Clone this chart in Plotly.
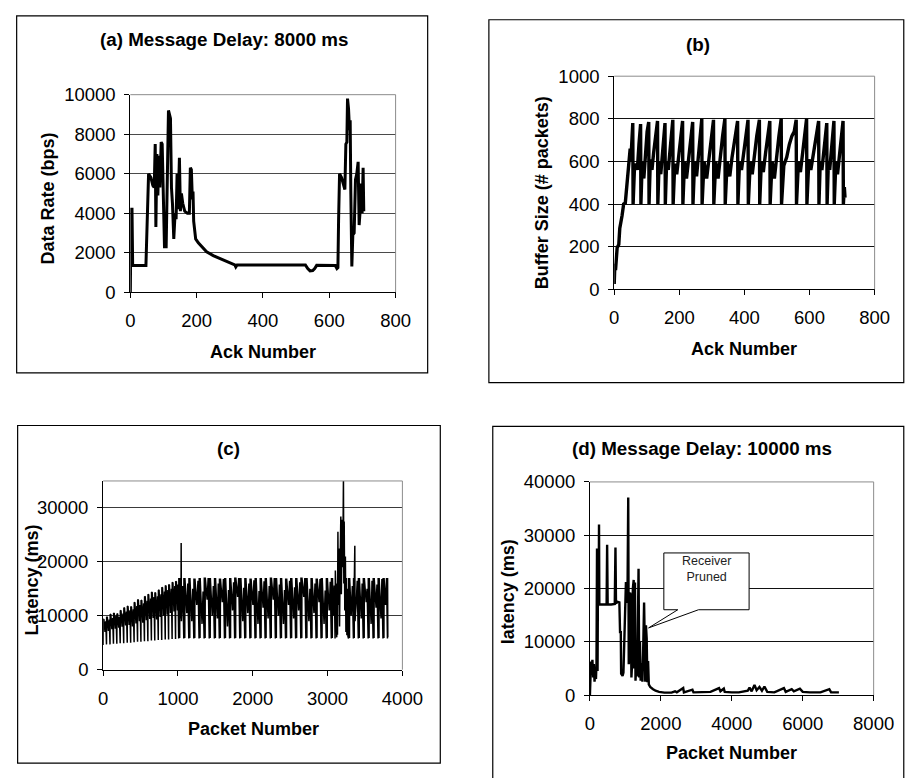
import plotly.graph_objects as go

W, H = 917, 778
FONT = "Liberation Sans, Arial, sans-serif"

# ---------------- (a) Data rate vs ack number ----------------
a_ack = [0, 2, 5, 7, 47, 49, 52, 55, 62, 68, 72, 75, 77, 80, 83, 86, 89, 93, 96, 99,
         103, 108, 111, 115, 118, 121, 124, 127, 131, 135, 138, 141, 144, 148, 151, 154,
         158, 164, 172, 178, 181, 184, 187, 189, 191, 197, 205, 215, 230, 250, 270, 290,
         305, 315, 318, 322, 400, 480, 528, 535, 542, 550, 556, 562, 600, 618, 623, 626,
         628, 631, 637, 643, 647, 650, 653, 655, 658, 661, 663, 665, 668, 671, 675, 679,
         683, 687, 690, 693, 696, 699, 702, 704]
a_rate = [0, 4200, 4200, 1350, 1350, 2700, 4900, 6000, 5800, 5400, 5300, 7500, 3300, 7000,
          4900, 6900, 5300, 7600, 7500, 5000, 2300, 2300, 4600, 9200, 9000, 8800, 5300, 4500,
          2700, 4000, 3700, 6000, 4200, 6800, 4100, 5000, 4500, 4100, 4000, 4000, 6300, 6200,
          4700, 5100, 3600, 2700, 2500, 2300, 2050, 1850, 1700, 1550, 1450, 1380, 1280, 1380,
          1380, 1380, 1380, 1200, 1080, 1100, 1200, 1360, 1370, 1350, 1200, 1250, 3600, 6000,
          5800, 5400, 5200, 7500, 7600, 9800, 9300, 8200, 8700, 5000, 1300, 2900, 3000, 5700,
          6000, 6600, 3400, 4100, 5500, 4000, 6300, 4100]

# ---------------- (b) Buffer size vs ack number ----------------
b_ack = [0, 2, 4, 9, 14, 17, 24, 29, 34, 37, 42, 45, 49, 51, 55, 57,
         58, 62, 67, 71, 76, 81,
         82, 86, 91, 95, 101, 106,
         107, 111, 116, 121, 127, 133,
         134, 138, 143, 147, 152, 156,
         157, 161, 166, 170, 175, 180,
         181, 186, 192, 198, 204, 210,
         211, 216, 222, 229, 235, 241,
         242, 247, 253, 259, 264, 269,
         270, 276, 284, 292, 299, 305,
         306, 312, 319, 326, 333, 340,
         341, 347, 355, 362, 370, 379,
         380, 385, 391, 398, 405, 411,
         412, 418, 424, 431, 438, 446,
         447, 452, 458, 465, 472, 478,
         479, 485, 492, 499, 506, 513,
         514, 521, 530, 538, 546, 553, 559,
         560, 566, 572, 578, 585, 591,
         592, 598, 604, 612, 620, 628,
         629, 633, 638, 643, 649, 653,
         654, 658, 662, 667, 672, 675,
         676, 681, 686, 692, 698, 703,
         704, 707, 709]
b_buffer = [25, 120, 90, 195, 210, 285, 345, 400, 405, 455, 500, 590, 660, 600, 720, 780,
            400, 560, 590, 560, 680, 775,
            400, 600, 520, 620, 740, 785,
            400, 610, 560, 640, 720, 790,
            400, 600, 540, 620, 700, 780,
            400, 600, 560, 640, 720, 795,
            400, 590, 540, 620, 700, 790,
            400, 600, 520, 620, 700, 785,
            400, 600, 530, 640, 720, 800,
            400, 600, 520, 620, 710, 795,
            400, 600, 520, 630, 720, 800,
            400, 600, 530, 620, 700, 790,
            400, 600, 560, 640, 720, 795,
            400, 600, 540, 640, 720, 795,
            400, 600, 550, 640, 720, 790,
            400, 600, 520, 640, 720, 800,
            400, 580, 620, 680, 720, 740, 795,
            400, 600, 550, 640, 720, 800,
            400, 610, 560, 640, 720, 790,
            400, 600, 560, 640, 720, 780,
            400, 600, 560, 650, 720, 790,
            400, 600, 540, 620, 720, 790,
            400, 480, 430]

# ---------------- (c) Latency vs packet number ----------------
c_packet = [
    0, 2, 9, 11, 25, 35, 45, 47, 54, 56, 70, 82, 92, 94, 101, 103, 117, 128,
    138, 140, 147, 149, 163, 173, 183, 185, 192, 194, 208, 218, 228, 230, 237, 239, 253, 265,
    275, 277, 284, 286, 300, 312, 322, 324, 331, 333, 347, 358, 368, 370, 377, 379, 393, 404,
    414, 416, 423, 425, 439, 450, 460, 462, 469, 471, 485, 495, 505, 507, 514, 516, 530, 542,
    552, 554, 561, 563, 577, 588, 598, 600, 607, 609, 623, 635, 645, 647, 654, 656, 670, 680,
    690, 692, 699, 701, 715, 727, 737, 739, 746, 748, 762, 773, 783, 785, 792, 794, 808, 820,
    830, 832, 839, 841, 855, 865, 875, 877, 884, 886, 900, 912, 922, 924, 931, 933, 947, 958,
    968, 970, 977, 979, 993, 1000,
    1010, 1012, 1023, 1025, 1035, 1040, 1043, 1046, 1064,
    1078, 1080, 1091, 1093, 1118, 1131, 1145, 1147, 1158, 1160, 1185, 1198,
    1212, 1214, 1225, 1227, 1252, 1268, 1282, 1284, 1295, 1297, 1322, 1336,
    1350, 1352, 1363, 1365, 1390, 1404, 1418, 1420, 1431, 1433, 1458, 1473,
    1487, 1489, 1500, 1502, 1527, 1539, 1553, 1555, 1566, 1568, 1593, 1608,
    1622, 1624, 1635, 1637, 1662, 1676, 1690, 1692, 1703, 1705, 1730, 1744,
    1758, 1760, 1771, 1773, 1798, 1812, 1826, 1828, 1839, 1841, 1866, 1879,
    1893, 1895, 1906, 1908, 1933, 1948, 1962, 1964, 1975, 1977, 2002, 2016,
    2030, 2032, 2043, 2045, 2070, 2084, 2098, 2100, 2111, 2113, 2138, 2151,
    2165, 2167, 2178, 2180, 2205, 2220, 2234, 2236, 2247, 2249, 2274, 2288,
    2302, 2304, 2315, 2317, 2342, 2356, 2370, 2372, 2383, 2385, 2410, 2424,
    2438, 2440, 2451, 2453, 2478, 2492, 2506, 2508, 2519, 2521, 2546, 2559,
    2573, 2575, 2586, 2588, 2613, 2628, 2642, 2644, 2655, 2657, 2682, 2696,
    2710, 2712, 2723, 2725, 2750, 2764, 2778, 2780, 2791, 2793, 2818, 2832,
    2846, 2848, 2859, 2861, 2886, 2899, 2913, 2915, 2926, 2928, 2953, 2968,
    2982, 2984, 2995, 2997, 3022, 3036, 3050, 3052, 3063, 3065, 3080, 3090,
    3100, 3104, 3112, 3122, 3128, 3132, 3138, 3144, 3152, 3160, 3168, 3177,
    3184, 3195, 3203, 3212, 3217, 3222, 3230, 3238, 3245, 3252, 3258, 3265, 3272,
    3280, 3282, 3293, 3295, 3315, 3331,
    3345, 3347, 3356, 3358, 3361, 3364, 3367, 3385, 3396,
    3410, 3412, 3423, 3425, 3450, 3462, 3476, 3478, 3489, 3491, 3516, 3528,
    3542, 3544, 3555, 3557, 3582, 3594, 3608, 3610, 3621, 3623, 3648, 3660,
    3674, 3676, 3687, 3689, 3714, 3726, 3740, 3742, 3753, 3755, 3775, 3788,
    3800, 3802, 3805]
c_latency = [
    4600, 9400, 4700, 9300, 7000, 9000, 4700, 9800, 4800, 9700, 7200, 9300,
    4700, 10300, 4800, 10200, 7500, 9600, 4800, 10500, 4900, 10400, 7600, 10000,
    4800, 10400, 4900, 10300, 7800, 9800, 4900, 11000, 5000, 10900, 8000, 10400,
    4900, 11500, 5000, 11400, 8200, 10800, 5000, 11800, 5100, 11700, 8300, 11000,
    5000, 11700, 5100, 11600, 8000, 11200, 5100, 12500, 5200, 12400, 8600, 11800,
    5200, 13000, 5300, 12900, 9000, 12000, 5200, 12900, 5300, 12800, 8700, 12300,
    5300, 13600, 5400, 13500, 9200, 12800, 5300, 14000, 5400, 13900, 9400, 13200,
    5400, 14400, 5500, 14300, 9600, 13500, 5400, 14300, 5500, 14200, 9300, 13600,
    5500, 14800, 5600, 14700, 9800, 14000, 5500, 15300, 5600, 15200, 10000, 14500,
    5600, 15600, 5700, 15500, 10200, 14800, 5600, 15800, 5700, 15700, 10500, 15000,
    5700, 16200, 5800, 16100, 10800, 15500, 5700, 16400, 5800, 16300, 11000, 15800,
    5800, 17000, 5900, 17000, 11500, 9500, 23500, 9000, 15500,
    5800, 17000, 5900, 17000, 10500, 16000, 5800, 17000, 5900, 17000, 9000, 15000,
    5800, 16900, 5900, 16900, 12000, 16500, 5800, 17000, 5900, 17000, 8500, 14500,
    5800, 17100, 5900, 17100, 13000, 17000, 5800, 17000, 5900, 17000, 10000, 15500,
    5800, 17000, 5900, 17000, 9500, 16000, 5800, 16900, 5900, 16900, 12500, 16800,
    5800, 17000, 5900, 17000, 8000, 14800, 5800, 17000, 5900, 17000, 11000, 16200,
    5800, 17100, 5900, 17100, 13500, 17000, 5800, 17000, 5900, 17000, 9000, 15200,
    5800, 17000, 5900, 17000, 10500, 16000, 5800, 16900, 5900, 16900, 12000, 16600,
    5800, 17000, 5900, 17000, 8500, 14600, 5800, 17000, 5900, 17000, 11500, 16400,
    5800, 17000, 5900, 17000, 9500, 15500, 5800, 17100, 5900, 17100, 13000, 17000,
    5800, 17000, 5900, 17000, 10000, 15800, 5800, 17000, 5900, 17000, 8500, 14800,
    5800, 16900, 5900, 16900, 12000, 16500, 5800, 17000, 5900, 17000, 9500, 15300,
    5800, 17000, 5900, 17000, 11000, 16200, 5800, 17100, 5900, 17100, 13500, 17000,
    5800, 17000, 5900, 17000, 9000, 15000, 5800, 17000, 5900, 17000, 10500, 16000,
    5800, 16900, 5900, 16900, 12500, 16800, 5800, 17000, 5900, 17000, 8500, 14700,
    5800, 17000, 5900, 17000, 11000, 16300, 5800, 17000, 5900, 17000, 10000, 15600,
    5800, 18400, 9000, 6000, 16000, 6500, 25600, 12000, 22500, 8000, 20000, 28400,
    14000, 27800, 19000, 35500, 16000, 27500, 11000, 21000, 7000, 17000, 6400, 15000, 6200,
    5800, 17000, 5900, 17000, 10000, 15500,
    5800, 17000, 5900, 17000, 12000, 23000, 9000, 13000, 16500,
    5800, 17000, 5900, 17000, 9500, 16000, 5800, 17000, 5900, 17000, 12500, 15000,
    5800, 17000, 5900, 17000, 8500, 16500, 5800, 17000, 5900, 17000, 11500, 15800,
    5800, 17000, 5900, 17000, 9500, 16800, 5800, 17000, 5900, 17000, 12000, 17000,
    5800, 17000, 6000]

# ---------------- (d) Latency vs packet number ----------------
d_packet = [0, 15, 30, 50, 70, 90, 110, 130, 150, 170, 185, 200, 215, 230, 245, 256, 265,
            300, 400, 470, 485, 500, 600, 700, 720, 735, 780, 830, 850, 870, 880, 920, 945,
            980, 1000, 1015, 1040, 1060, 1080, 1095, 1110, 1130, 1150, 1170, 1190, 1210,
            1234, 1250, 1270, 1285, 1300, 1320, 1345, 1371, 1390, 1410, 1430, 1460, 1480,
            1500, 1527, 1545, 1560, 1580, 1600, 1620, 1640, 1660, 1700, 1780, 1850, 1950,
            2100, 2300, 2400, 2450, 2630, 2650, 2890, 2920, 3100, 3400, 3640, 3680, 3775,
            3800, 4000, 4200, 4450, 4500, 4560, 4640, 4700, 4780, 4850, 4920, 5000, 5200,
            5470, 5520, 5690, 5750, 5920, 6000, 6200, 6500, 6750, 6800, 7020]
d_latency = [0, 3000, 6300, 4500, 6600, 3300, 5800, 2500, 4000, 3000, 6000, 27500, 4500,
             27000, 17000, 32000, 17000, 17000, 17000, 17000, 28200, 17000, 17000, 17100,
             27700, 17200, 17500, 17400, 11600, 12000, 4000, 3600, 4200, 14300, 15000, 21200,
             17300, 19000, 37100, 5800, 6500, 19200, 18800, 3300, 6000, 20000, 21600, 5000,
             21100, 2700, 5000, 3500, 9000, 23700, 3300, 10000, 2700, 6000, 2500, 8000, 17350,
             10000, 2500, 13100, 10650, 2400, 6400, 2000, 1500, 1100, 800, 600, 450, 450, 700,
             500, 1300, 500, 1000, 500, 500, 600, 1300, 700, 1200, 600, 500, 500, 800, 1400,
             700, 1900, 900, 1500, 800, 1600, 600, 500, 1300, 600, 1100, 700, 1200, 600, 500,
             500, 1100, 500, 500]

# ---------------- text ----------------
titles = ["(a) Message Delay: 8000 ms", "(b)", "(c)", "(d) Message Delay: 10000 ms"]
x_titles = ["Ack Number", "Ack Number", "Packet Number", "Packet Number"]
y_titles = ["Data Rate (bps)", "Buffer Size (# packets)", "Latency (ms)", "latency (ms)"]
callout_text = "Receiver<br>Pruned"


def px(x):
    return x / W


def py(y):
    return 1 - y / H


fig = go.Figure()
series = [(a_ack, a_rate, 3.0), (b_ack, b_buffer, 3.4), (c_packet, c_latency, 1.5),
          (d_packet, d_latency, 2.4)]
for i, (xs, ys, lw) in enumerate(series):
    sfx = "" if i == 0 else str(i + 1)
    fig.add_trace(go.Scatter(x=xs, y=ys, mode="lines", xaxis="x" + sfx, yaxis="y" + sfx,
                             line=dict(color="black", width=lw), showlegend=False,
                             hoverinfo="skip"))

# plot-area pixel boxes (left, right, top, bottom)
boxes = [(129, 402, 86, 289), (627, 895, 67, 286), (101, 409, 483, 677), (602, 894, 484, 703)]
xranges = [[0, 800], [0, 800], [0, 4000], [0, 8000]]
xdt = [200, 200, 1000, 2000]
yranges = [[0, 10000], [0, 1000], [0, 35000], [0, 40000]]
ydt = [2000, 200, 10000, 10000]
gridc = ["#4a4a4a", "#111111", "#3a3a3a", "#111111"]

tickfont = dict(family=FONT, size=18.5, color="black")
layout = dict(width=W, height=H, margin=dict(l=0, r=0, t=0, b=0), paper_bgcolor="white",
              plot_bgcolor="white", showlegend=False)
shapes = []
annotations = []
for i in range(4):
    sfx = "" if i == 0 else str(i + 1)
    l, r, t, b = boxes[i]
    layout["xaxis" + sfx] = dict(domain=[px(l), px(r)], anchor="y" + sfx, range=xranges[i],
                                 dtick=xdt[i], tick0=0, tickformat="d", showline=True,
                                 linecolor="black", linewidth=1, ticks="outside", ticklen=5,
                                 tickcolor="black", tickfont=tickfont, showgrid=False,
                                 zeroline=False, ticklabelstandoff=7)
    layout["yaxis" + sfx] = dict(domain=[py(b), py(t)], anchor="x" + sfx, range=yranges[i],
                                 dtick=ydt[i], tick0=0, tickformat="d", showline=True,
                                 linecolor="black", linewidth=1, ticks="outside", ticklen=5,
                                 tickcolor="black", tickfont=tickfont, showgrid=True,
                                 gridcolor=gridc[i], gridwidth=1, zeroline=False,
                                 ticklabelstandoff=5)
    # gray plot-area border (top and right)
    shapes.append(dict(type="line", xref="x" + sfx + " domain", yref="y" + sfx + " domain",
                       x0=0, x1=1, y0=1, y1=1, line=dict(color="#8c8c8c", width=1),
                       layer="above"))
    shapes.append(dict(type="line", xref="x" + sfx + " domain", yref="y" + sfx + " domain",
                       x0=1, x1=1, y0=0, y1=1, line=dict(color="#8c8c8c", width=1),
                       layer="above"))

# outer panel frames (pixels: left, right, top, bottom)
frames = [(12, 435, 5, 372), (498, 925, 9, 382), (13, 448, 426, 773), (502, 925, 427, 790)]
for (l, r, t, b) in frames:
    shapes.append(dict(type="rect", xref="paper", yref="paper", x0=px(l), x1=px(r),
                       y0=py(b), y1=py(t), line=dict(color="black", width=1.2),
                       fillcolor="rgba(0,0,0,0)", layer="below"))

title_pos = [(225, 29), (713, 34), (230, 450), (717, 450)]
xt_pos = [(266, 350), (761, 347), (256, 738), (748, 763)]
yt_pos = [(44, 193), (553, 187), (28, 585), (518, 597)]
for i in range(4):
    annotations.append(dict(text="<b>" + titles[i] + "</b>", xref="paper", yref="paper",
                            x=px(title_pos[i][0]), y=py(title_pos[i][1]), showarrow=False,
                            xanchor="center", yanchor="middle",
                            font=dict(family=FONT, size=18.8, color="black")))
    annotations.append(dict(text="<b>" + x_titles[i] + "</b>", xref="paper", yref="paper",
                            x=px(xt_pos[i][0]), y=py(xt_pos[i][1]), showarrow=False,
                            xanchor="center", yanchor="middle",
                            font=dict(family=FONT, size=18, color="black")))
    annotations.append(dict(text="<b>" + y_titles[i] + "</b>", xref="paper", yref="paper",
                            x=px(yt_pos[i][0]), y=py(yt_pos[i][1]), showarrow=False,
                            xanchor="center", yanchor="middle", textangle=-90,
                            font=dict(family=FONT, size=18, color="black")))

# callout in panel (d)
shapes.append(dict(type="path", xref="x4", yref="y4",
                   path="M 2084 26670 L 4488 26670 L 4488 16010 L 3062 16010 L 1654 12600 "
                        "L 2477 16010 L 2084 16010 Z",
                   line=dict(color="black", width=1), fillcolor="white", layer="above"))
annotations.append(dict(text=callout_text, xref="paper", yref="paper", x=px(722), y=py(573),
                        showarrow=False, xanchor="center", yanchor="middle",
                        font=dict(family=FONT, size=12.5, color="#222222")))

layout["shapes"] = shapes
layout["annotations"] = annotations
fig.update_layout(**layout)
fig.write_html("out.html")
